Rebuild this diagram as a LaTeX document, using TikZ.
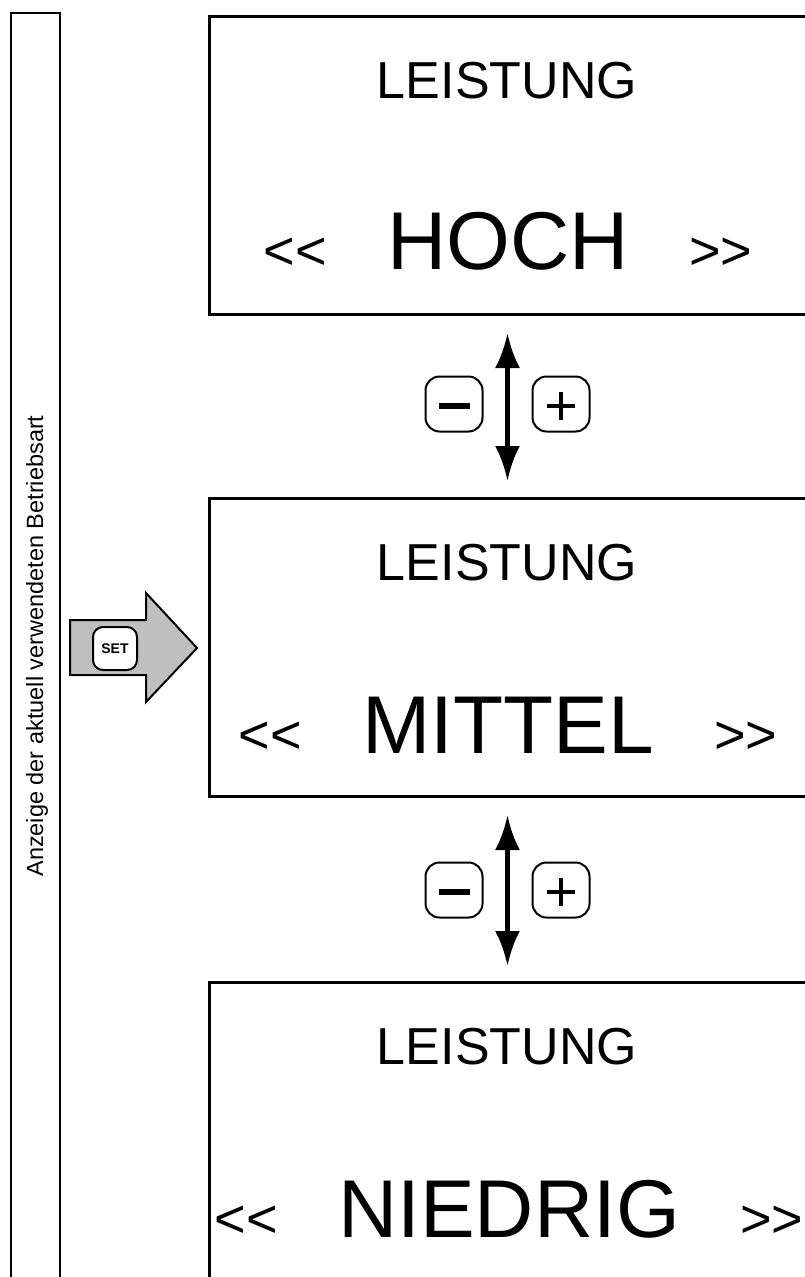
\documentclass[tikz,border=0pt]{standalone}
\usepackage{fontspec}
\setmainfont{Liberation Sans}
\usetikzlibrary{arrows.meta, positioning, calc}

\begin{document}
\begin{tikzpicture}[
  x=1pt,
  y=-1pt,
  screen/.style={draw, line width=3pt, anchor=north west, minimum width=640pt, minimum height=298pt, inner sep=0pt},
  titel/.style={font=\fontsize{52}{52}\selectfont, anchor=base, inner sep=0pt},
  stufe/.style={font=\fontsize{82}{82}\selectfont, anchor=base, inner sep=0pt},
  chev/.style={font=\fontsize{54}{54}\selectfont, inner sep=0pt},
  taste/.style={draw, line width=2pt, rounded corners=14pt, minimum width=57pt, minimum height=55pt, inner sep=0pt},
  wahl/.style={line width=5pt, {Latex[length=35pt, width=25pt]}-{Latex[length=35pt, width=25pt]}},
  setpfeil/.style={draw, line width=2pt, fill=black!25, line join=miter}
  ]
    \useasboundingbox (0,0) rectangle (805,1277);
    \clip (0,0) rectangle (805,1277);

    % Seitenleiste
    \draw[line width=2pt] (11,13) rectangle (60,1300);
    \node[rotate=90, anchor=base, inner sep=0pt, font=\fontsize{23.5}{23.5}\selectfont] (anzeige) at (43,646) {Anzeige der aktuell verwendeten Betriebsart};

    % drei Anzeigen
    \node[screen] (screenA) at (208,15) {};
    \node[screen] (screenB) at (208,497) {};
    \node[screen, minimum height=330pt] (screenC) at (208,981) {};

    \node[titel] (titelA) at (507,98) {LEISTUNG};
    \node[stufe] (hoch) at (508,269) {HOCH};
    \node[chev, base left=60pt of hoch] (linksA) {<\kern0pt<};
    \node[chev, base right=60pt of hoch] (rechtsA) {>\kern0pt>};

    \node[titel] (titelB) at (507,580) {LEISTUNG};
    \node[stufe] (mittel) at (508,753) {MITTEL};
    \node[chev, base left=60pt of mittel] (linksB) {<\kern0pt<};
    \node[chev, base right=60pt of mittel] (rechtsB) {>\kern0pt>};

    \node[titel] (titelC) at (507,1064) {LEISTUNG};
    \node[stufe] (niedrig) at (509,1237) {NIEDRIG};
    \node[chev, base left=60pt of niedrig] (linksC) {<\kern0pt<};
    \node[chev, base right=60pt of niedrig] (rechtsC) {>\kern0pt>};

%Tasten - und +
    \node[taste] (minusA) at (454,404) {};
    \node[taste] (plusA) at (561,404) {};
    \draw[line width=6pt] ($(minusA.center)+(-15.5,2)$) -- +(31,0);
    \draw[line width=4.5pt] ($(plusA.center)+(-14,2)$) -- +(28,0);
    \draw[line width=4.5pt] ($(plusA.center)+(0,-12)$) -- +(0,28);

    \node[taste] (minusB) at (454,890) {};
    \node[taste] (plusB) at (561,890) {};
    \draw[line width=6pt] ($(minusB.center)+(-15.5,2)$) -- +(31,0);
    \draw[line width=4.5pt] ($(plusB.center)+(-14,2)$) -- +(28,0);
    \draw[line width=4.5pt] ($(plusB.center)+(0,-12)$) -- +(0,28);

    % Doppelpfeile
    \coordinate (pfeilA) at ($(minusA.east)!0.5!(plusA.west)$);
    \coordinate (pfeilB) at ($(minusB.east)!0.5!(plusB.west)$);
    \draw[wahl, shorten <=17pt, shorten >=16pt] (pfeilA |- screenA.south) -- (pfeilA |- screenB.north);
    \draw[wahl, shorten <=17pt, shorten >=15pt] (pfeilB |- screenB.south) -- (pfeilB |- screenC.north);

    % SET
    \coordinate (set) at (70,648);
    \draw[setpfeil] (set) ++(0,-28) -- ++(76,0) -- ++(0,-27) -- ++(51,55) -- ++(-51,54) -- ++(0,-27) -- ++(-76,0) -- cycle;
    \node[draw, line width=2pt, fill=white, rounded corners=10pt, minimum width=44pt, minimum height=43pt, inner sep=0pt, font=\bfseries\fontsize{14}{14}\selectfont] (settaste) at (115,648.5) {SET};

\end{tikzpicture}
\end{document}
